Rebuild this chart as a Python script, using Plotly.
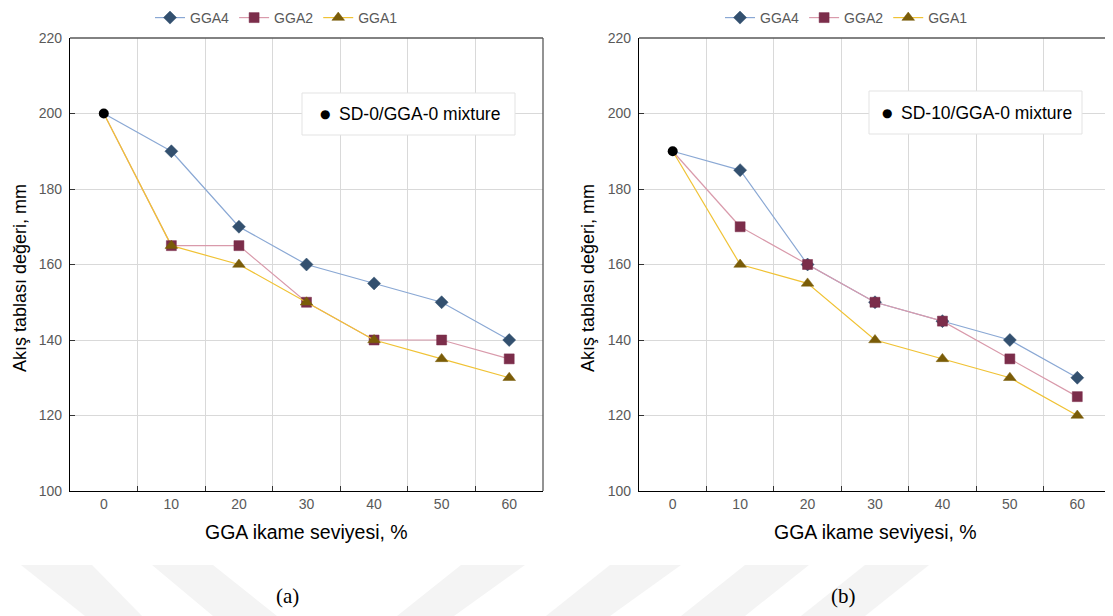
import plotly.graph_objects as go

W, H = 1113, 616
OFF = 8  # page offset of the plot in the browser

categories = ["0", "10", "20", "30", "40", "50", "60"]
series_names = ["GGA4", "GGA2", "GGA1"]

a_gga4 = [200, 190, 170, 160, 155, 150, 140]
a_gga2 = [200, 165, 165, 150, 140, 140, 135]
a_gga1 = [200, 165, 160, 150, 140, 135, 130]

b_gga4 = [190, 185, 160, 150, 145, 140, 130]
b_gga2 = [190, 170, 160, 150, 145, 135, 125]
b_gga1 = [190, 160, 155, 140, 135, 130, 120]

y_ticks = [100, 120, 140, 160, 180, 200, 220]

line_colors = {"GGA4": "#8aa8d4", "GGA2": "#d99aab", "GGA1": "#f0c234"}
marker_colors = {"GGA4": "#33506f", "GGA2": "#7b2d4a", "GGA1": "#7a5c08"}
symbols = {"GGA4": "diamond", "GGA2": "square", "GGA1": "triangle-up"}
sizes = {"GGA4": 10, "GGA2": 10, "GGA1": 11}

FONT = "Liberation Sans, Arial, sans-serif"


def px(x):
    return (x - OFF) / W


def py(y):
    return 1 - (y - OFF) / H


fig = go.Figure()

panels = [
    ("x", "y", "legend", {"GGA4": a_gga4, "GGA2": a_gga2, "GGA1": a_gga1}),
    ("x2", "y2", "legend2", {"GGA4": b_gga4, "GGA2": b_gga2, "GGA1": b_gga1}),
]

for xa, ya, lg, data in panels:
    for name in series_names:
        vals = data[name]
        fig.add_trace(go.Scatter(
            x=categories[:2], y=vals[:2], mode="lines", xaxis=xa, yaxis=ya,
            line=dict(color=line_colors[name], width=1.2), showlegend=False,
            hoverinfo="skip"))
    for name in series_names:
        vals = data[name]
        fig.add_trace(go.Scatter(
            x=categories[1:], y=vals[1:], mode="lines+markers", name=name,
            xaxis=xa, yaxis=ya, legend=lg,
            line=dict(color=line_colors[name], width=1.2),
            marker=dict(symbol=symbols[name], size=sizes[name],
                        color=marker_colors[name],
                        line=dict(width=0.5, color=marker_colors[name]))))
    fig.add_trace(go.Scatter(
        x=categories[:1], y=[data["GGA4"][0]], mode="markers", xaxis=xa, yaxis=ya,
        marker=dict(symbol="circle", size=10, color="black"), showlegend=False))

xdom1 = [px(70), px(543)]
xdom2 = [px(639), px(1111)]
ydom = [py(491), py(38)]

axis_common_x = dict(
    type="category", categoryorder="array", categoryarray=categories,
    range=[-0.5, 6.5], tickson="boundaries", ticks="inside", ticklen=5,
    tickcolor="#333333", showgrid=True, gridcolor="#d9d9d9", gridwidth=1,
    showline=True, linecolor="black", linewidth=1.3, mirror=False,
    tickfont=dict(family=FONT, size=14, color="#595959"), zeroline=False,
    automargin=False)
axis_common_y = dict(
    range=[100, 220], tickvals=y_ticks, ticks="inside", ticklen=5,
    tickcolor="#333333", showgrid=True, gridcolor="#d9d9d9", gridwidth=1,
    showline=True, linecolor="black", linewidth=1.3, mirror=False,
    tickfont=dict(family=FONT, size=14, color="#595959"), zeroline=False,
    automargin=False, ticklabelstandoff=4)

legend_common = dict(
    orientation="h", yanchor="middle", xanchor="left", bgcolor="rgba(0,0,0,0)",
    font=dict(family=FONT, size=14, color="#595959"), itemwidth=30,
    tracegroupgap=0, y=py(18))

fig.update_layout(
    width=W, height=H, margin=dict(l=0, r=0, t=0, b=0, autoexpand=False),
    paper_bgcolor="white", plot_bgcolor="white",
    font=dict(family=FONT),
    xaxis=dict(domain=xdom1, anchor="y", **axis_common_x),
    yaxis=dict(domain=ydom, anchor="x", **axis_common_y),
    xaxis2=dict(domain=xdom2, anchor="y2", **axis_common_x),
    yaxis2=dict(domain=ydom, anchor="x2", **axis_common_y),
    legend=dict(x=px(150), **legend_common),
    legend2=dict(x=px(720), **legend_common),
    showlegend=True,
)

shapes = []
for xd in (xdom1, xdom2):
    shapes.append(dict(type="line", xref="paper", yref="paper", x0=xd[0], x1=xd[1],
                       y0=ydom[1], y1=ydom[1], line=dict(color="#595959", width=1.3)))
    shapes.append(dict(type="line", xref="paper", yref="paper", x0=xd[1], x1=xd[1],
                       y0=ydom[0], y1=ydom[1], line=dict(color="#595959", width=1.3)))

boxes = [((302, 93, 515, 135), 23, 35, "SD-0/GGA-0 mixture"),
         ((869, 91, 1082, 134), 18, 30, "SD-10/GGA-0 mixture")]
annotations = []
for (x0, y0, x1, y1), dot_dx, txt_dx, text in boxes:
    shapes.append(dict(type="rect", xref="paper", yref="paper",
                       x0=px(x0), x1=px(x1), y0=py(y1), y1=py(y0),
                       line=dict(color="#e3e3e3", width=1), fillcolor="white"))
    yc = (y0 + y1) / 2
    annotations.append(dict(x=px(x0 + dot_dx), y=py(yc), xref="paper", yref="paper",
                            text="●", showarrow=False, xanchor="center", yanchor="middle",
                            font=dict(family="DejaVu Sans", size=12, color="black")))
    annotations.append(dict(x=px(x0 + txt_dx), y=py(yc), xref="paper", yref="paper",
                            text=text, showarrow=False, xanchor="left", yanchor="middle",
                            font=dict(family=FONT, size=17.5, color="black")))

wm = [((21, 92), (85, 142)), ((152, 213), (213, 277)),
      ((461, 525), (397, 454)), ((610, 681), (546, 610)),
      ((745, 809), (681, 745)), ((865, 929), (801, 865))]
for (t0, t1), (b0, b1) in wm:
    path = (f"M {px(t0)} {py(565)} L {px(t1)} {py(565)} "
            f"L {px(b1)} {py(616)} L {px(b0)} {py(616)} Z")
    shapes.append(dict(type="path", xref="paper", yref="paper", path=path,
                       fillcolor="#f4f4f4", line=dict(width=0), layer="below"))

for xc, ytx in ((306, 20), (875, 588)):
    annotations.append(dict(x=px(xc), y=py(532), xref="paper", yref="paper",
                            text="GGA ikame seviyesi, %", showarrow=False,
                            xanchor="center", yanchor="middle",
                            font=dict(family=FONT, size=19.5, color="black")))
    annotations.append(dict(x=px(ytx), y=py(278), xref="paper", yref="paper",
                            text="Akış tablası değeri, mm", showarrow=False, textangle=-90,
                            xanchor="center", yanchor="middle",
                            font=dict(family=FONT, size=18, color="black")))
for xc, lab in ((287, "(a)"), (843, "(b)")):
    annotations.append(dict(x=px(xc), y=py(596), xref="paper", yref="paper",
                            text=lab, showarrow=False, xanchor="center", yanchor="middle",
                            font=dict(family="Liberation Serif, Times New Roman, serif",
                                      size=21, color="black")))

fig.update_layout(shapes=shapes, annotations=annotations)

fig.write_html("out.html")
